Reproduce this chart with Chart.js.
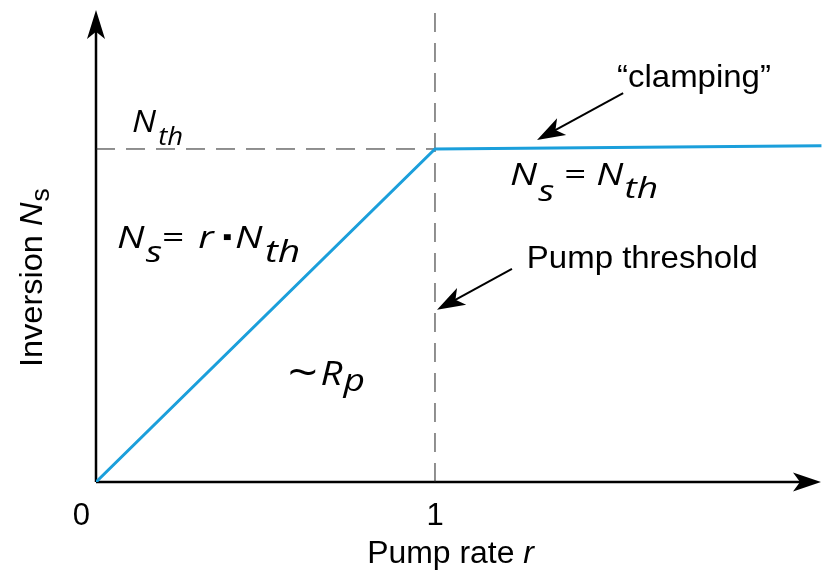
<!DOCTYPE html>
<html>
<head>
<meta charset="utf-8">
<script src="https://cdn.jsdelivr.net/npm/chart.js@4"></script>
<style>
  body { margin: 0; background: #fff; }
  #wrap { width: 822px; height: 571px; }
</style>
</head>
<body>
<div id="wrap"><canvas id="laser"></canvas></div>
<script>
// inversion vs pump rate (normalised to threshold)
const pumpRate = [0, 1, 2.14];
const inversion = [0, 1, 1.01];
const thresholdRate = 1;
const thresholdInversion = 1;
const tickValues = [0, 1];
const tickLabels = ['0', '1'];
const xMax = 2.1416;
const yMax = 1.4174;

const MATH = '"Open Sans", "DejaVu Sans", sans-serif';
const TEXT = '"Liberation Sans", Arial, sans-serif';

// draws a row of text pieces (for subscripts), sx stretches horizontally
function drawRuns(ctx, x, y, runs, sx = 1) {
  let cx = x;
  for (const r of runs) {
    ctx.font = r.font;
    cx += (r.gap || 0) * sx;
    ctx.save();
    ctx.translate(cx, y + (r.dy || 0));
    ctx.scale(sx, 1);
    ctx.fillText(r.t, 0, 0);
    ctx.restore();
    cx += ctx.measureText(r.t).width * sx;
  }
}

function arrowHead(ctx, x, y, angle, len, half) {
  ctx.save();
  ctx.translate(x, y);
  ctx.rotate(angle);
  ctx.beginPath();
  ctx.moveTo(0, 0);
  ctx.lineTo(-len, -half);
  ctx.lineTo(-len * 0.75, 0);
  ctx.lineTo(-len, half);
  ctx.closePath();
  ctx.fill();
  ctx.restore();
}

function arrow(ctx, x1, y1, x2, y2) {
  const a = Math.atan2(y2 - y1, x2 - x1);
  ctx.beginPath();
  ctx.moveTo(x1, y1);
  ctx.lineTo(x2 - Math.cos(a) * 14, y2 - Math.sin(a) * 14);
  ctx.lineWidth = 2;
  ctx.stroke();
  arrowHead(ctx, x2, y2, a, 28, 9.5);
}

// text labels anchored in data units
const labels = [
  { x: 0.106, y: 1.051, sx: 1.1, runs: [
    { t: 'N', font: 'italic 31px ' + MATH },
    { t: 'th', font: 'italic 25px ' + MATH, dy: 13, gap: 2 }] },
  { x: 1.221, y: 0.892, sx: 1.24, runs: [
    { t: 'N', font: 'italic 31px ' + MATH },
    { t: 's', font: 'italic 30px ' + MATH, dy: 16, gap: 1 },
    { t: ' = ', font: '31px ' + MATH },
    { t: 'N', font: 'italic 31px ' + MATH },
    { t: 'th', font: 'italic 30px ' + MATH, dy: 13, gap: 1 }] },
  { x: 0.062, y: 0.703, sx: 1.26, runs: [
    { t: 'N', font: 'italic 31px ' + MATH },
    { t: 's', font: 'italic 30px ' + MATH, dy: 14, gap: 1 },
    { t: '= ', font: '31px ' + MATH },
    { t: 'r', font: 'italic 31px ' + MATH, gap: 3 },
    { t: '\u2219', font: 'bold 31px ' + MATH, gap: 5 },
    { t: 'N', font: 'italic 31px ' + MATH },
    { t: 'th', font: 'italic 31px ' + MATH, dy: 14, gap: 2 }] },
  { x: 0.566, y: 0.291, sx: 1.2, runs: [
    { t: '~', font: '44px ' + MATH, dy: 3 },
    { t: 'R', font: 'italic 32px ' + MATH, gap: 2 },
    { t: 'p', font: 'italic 31px ' + MATH, dy: 6, gap: 1 }] },
  { x: 1.271, y: 0.643, sx: 1.03, runs: [{ t: 'Pump threshold', font: '32px ' + TEXT }] },
  { x: 1.537, y: 1.186, sx: 1.03, runs: [{ t: '\u201Cclamping\u201D', font: '32px ' + TEXT }] }
];

const arrows = [
  { from: [1.555, 1.168], to: [1.301, 1.027] },
  { from: [1.227, 0.640], to: [1.006, 0.517] }
];

const sketch = {
  id: 'sketch',
  beforeDatasetsDraw(chart) {
    const { ctx, chartArea: ca, scales: { x, y } } = chart;
    const x0 = x.getPixelForValue(0), y0 = y.getPixelForValue(0);
    ctx.save();
    ctx.strokeStyle = '#000';
    ctx.fillStyle = '#000';
    ctx.lineWidth = 2.5;
    ctx.beginPath();
    ctx.moveTo(x0, y0);
    ctx.lineTo(x0, ca.top + 20);
    ctx.moveTo(x0, y0);
    ctx.lineTo(ca.right - 20, y0);
    ctx.stroke();
    arrowHead(ctx, x0, ca.top, -Math.PI / 2, 29, 9);
    arrowHead(ctx, ca.right - 1, y0, 0, 28, 9.5);
    ctx.restore();
  },
  afterDatasetsDraw(chart) {
    const { ctx, chartArea: ca, scales: { x, y } } = chart;
    ctx.save();
    ctx.fillStyle = '#000';
    ctx.strokeStyle = '#000';
    ctx.textBaseline = 'alphabetic';

    // tick labels
    ctx.font = '31px ' + TEXT;
    tickValues.forEach((v, i) => {
      const px = x.getPixelForValue(v);
      ctx.textAlign = v === 0 ? 'right' : 'center';
      ctx.fillText(tickLabels[i], v === 0 ? px - 6 : px, ca.bottom + 43);
    });
    ctx.textAlign = 'left';

    // axis titles
    drawRuns(ctx, x.getPixelForValue(0.8), ca.bottom + 81, [
      { t: 'Pump rate ', font: '31px ' + TEXT },
      { t: 'r', font: 'italic 31px ' + TEXT }], 1.03);
    ctx.save();
    ctx.translate(ca.left - 54, y.getPixelForValue(0.345));
    ctx.rotate(-Math.PI / 2);
    drawRuns(ctx, 0, 0, [
      { t: 'Inversion ', font: '31px ' + TEXT },
      { t: 'N', font: 'italic 31px ' + TEXT },
      { t: 's', font: '25px ' + TEXT, dy: 7, gap: 1 }], 1.05);
    ctx.restore();

    labels.forEach(l => drawRuns(ctx, x.getPixelForValue(l.x), y.getPixelForValue(l.y), l.runs, l.sx));
    arrows.forEach(a => arrow(ctx,
      x.getPixelForValue(a.from[0]), y.getPixelForValue(a.from[1]),
      x.getPixelForValue(a.to[0]), y.getPixelForValue(a.to[1])));
    ctx.restore();
  }
};

new Chart(document.getElementById('laser'), {
  type: 'line',
  data: {
    datasets: [
      {
        label: 'Inversion',
        data: pumpRate.map((r, i) => ({ x: r, y: inversion[i] })),
        borderColor: '#1b9fdb',
        borderWidth: 3,
        pointRadius: 0,
        tension: 0
      },
      {
        label: 'N_th',
        data: [{ x: 0, y: thresholdInversion }, { x: thresholdRate, y: thresholdInversion }],
        borderColor: '#222',
        borderWidth: 1,
        borderDash: [19, 11],
        pointRadius: 0
      },
      {
        label: 'threshold',
        data: [{ x: thresholdRate, y: 0 }, { x: thresholdRate, y: yMax }],
        borderColor: '#222',
        borderWidth: 1,
        borderDash: [19, 11],
        pointRadius: 0
      }
    ]
  },
  options: {
    responsive: true,
    maintainAspectRatio: false,
    animation: false,
    layout: { autoPadding: false, padding: { left: 96, right: 0, top: 10, bottom: 89 } },
    plugins: { legend: { display: false }, tooltip: { enabled: false } },
    scales: {
      x: { type: 'linear', min: 0, max: xMax, display: false },
      y: { type: 'linear', min: 0, max: yMax, display: false }
    }
  },
  plugins: [sketch]
});
</script>
</body>
</html>
